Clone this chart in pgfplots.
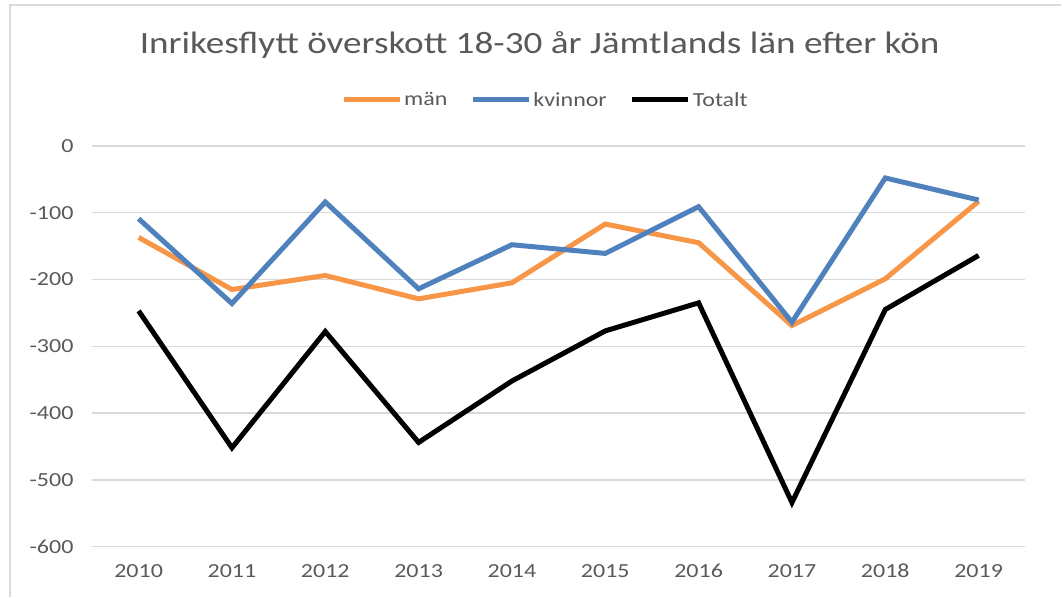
\documentclass[border=0pt]{standalone}
\usepackage{pgfplots}
\pgfplotsset{compat=1.18}
\usepackage{fontspec}
\setmainfont{Carlito}[FakeStretch=1.2]
\definecolor{orangeS}{HTML}{F79646}
\definecolor{blueS}{HTML}{4F81BD}
\definecolor{txt}{HTML}{595959}
\definecolor{gridc}{HTML}{D9D9D9}
\begin{document}
\begin{tikzpicture}[x=1pt,y=1pt]
\path (0,0) rectangle (1062,597);
\draw[gridc, line width=1.5pt] (10,0) -- (10,592) -- (1062,592);
\node[txt, font=\fontsize{31}{36}\selectfont] at (540,552) {Inrikesflytt överskott 18-30 år Jämtlands län efter kön};
\begin{axis}[at={(92pt,50pt)}, anchor=south west, scale only axis,
  width=934pt, height=401pt,
  xmin=2009.5, xmax=2019.5, ymin=-600, ymax=0,
  xtick={2010,2011,...,2019}, ytick={-600,-500,...,0},
  axis line style={draw=none}, major tick length=0pt,
  ymajorgrids, grid style={gridc, line width=1.5pt},
  tick label style={txt, font=\fontsize{20}{24}\selectfont},
  /pgf/number format/assume math mode=true,
  /pgf/number format/1000 sep={},
  yticklabel style={xshift=-15pt},
  xticklabel style={yshift=-14pt},
  legend columns=3,
  legend style={at={(0.486,1.115)}, anchor=center, draw=none, fill=none,
    font=\fontsize{20}{24}\selectfont, text=txt,
    nodes={inner xsep=2pt},
    /tikz/every even column/.append style={column sep=21pt}},
  legend image code/.code={\draw[#1, line width=5pt] (0pt,0pt) -- (56pt,0pt);},
  every axis plot/.append style={line width=5pt, line join=miter, mark=none},
]
\addplot[orangeS] coordinates {(2010,-137) (2011,-215) (2012,-194) (2013,-229) (2014,-205) (2015,-117) (2016,-145) (2017,-269) (2018,-199) (2019,-83)};
\addlegendentry{män}
\addplot[blueS] coordinates {(2010,-109) (2011,-236) (2012,-84) (2013,-214) (2014,-148) (2015,-161) (2016,-91) (2017,-264) (2018,-48) (2019,-81)};
\addlegendentry{kvinnor}
\addplot[black] coordinates {(2010,-247) (2011,-452) (2012,-278) (2013,-444) (2014,-352) (2015,-277) (2016,-235) (2017,-534) (2018,-245) (2019,-164)};
\addlegendentry{Totalt}
\end{axis}
\end{tikzpicture}
\end{document}
